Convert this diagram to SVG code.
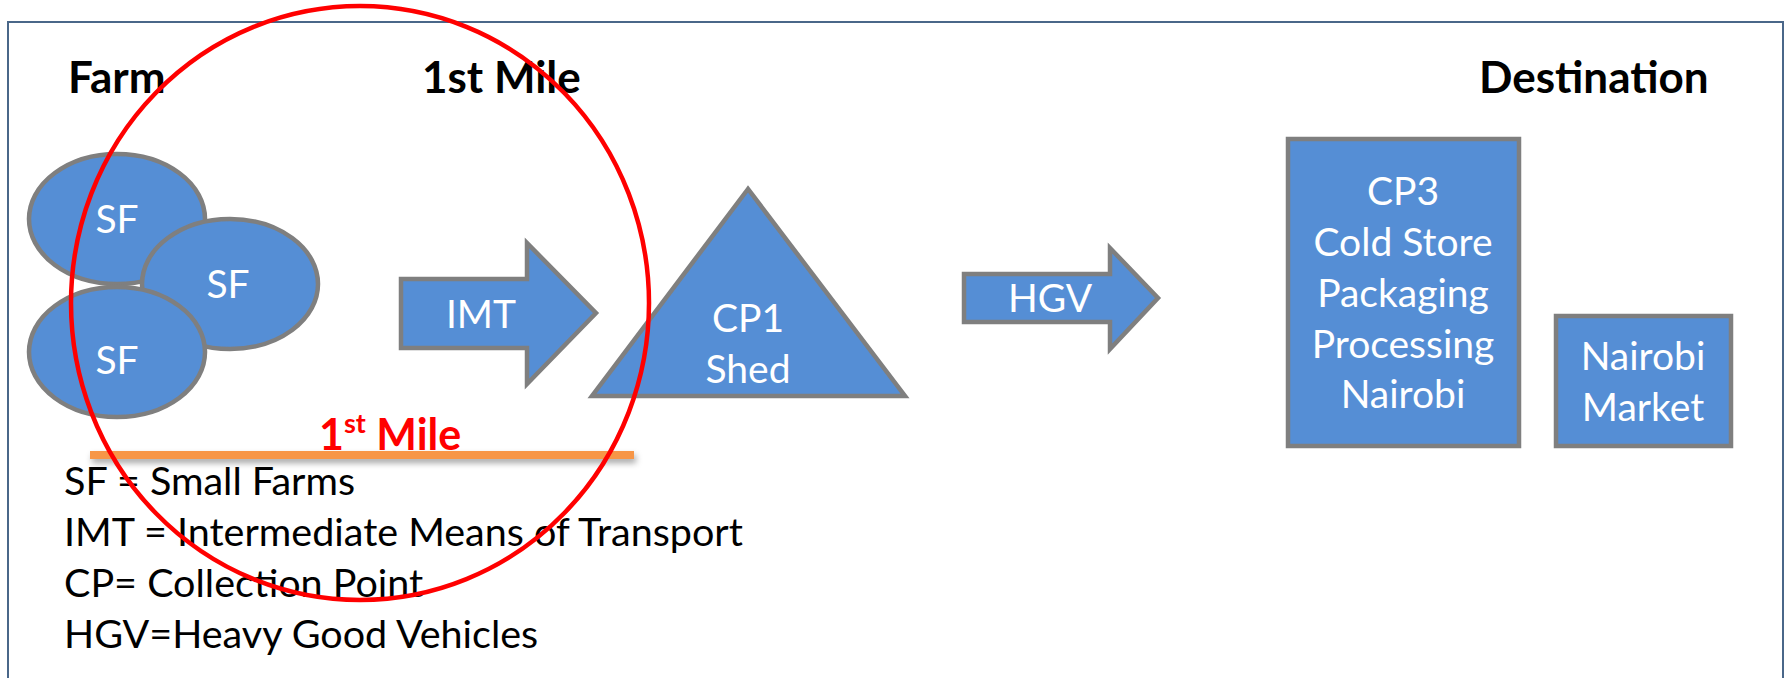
<svg xmlns="http://www.w3.org/2000/svg" width="1787" height="678" viewBox="0 0 1787 678">
  <style>
    .shape { fill: #558ed5; stroke: #7f7f7f; stroke-width: 4.5; }
    .lbl { font-family: Lato, "Open Sans", sans-serif; font-size: 39px; fill: #ffffff; text-anchor: middle; }
    .title { font-family: Lato, "Open Sans", sans-serif; font-size: 44px; font-weight: bold; fill: #000000; }
    .legend { font-family: Lato, "Open Sans", sans-serif; font-size: 39.5px; fill: #000000; }
    .red { font-family: Lato, "Open Sans", sans-serif; font-size: 43px; font-weight: bold; fill: #ff0000; }
  </style>
  <defs>
    <filter id="shadow" filterUnits="userSpaceOnUse" x="70" y="430" width="590" height="60">
      <feDropShadow dx="2" dy="4" stdDeviation="3" flood-color="#000000" flood-opacity="0.35"/>
    </filter>
  </defs>
  <rect width="1787" height="678" fill="#ffffff"/>
  <!-- frame -->
  <path d="M8,690 V22 H1783 V690" fill="none" stroke="#4a6789" stroke-width="2"/>

  <!-- titles -->
  <text class="title" x="68" y="93">Farm</text>
  <text class="title" x="422" y="93">1st Mile</text>
  <text class="title" x="1479" y="93">Destination</text>

  <!-- small farms -->
  <g id="sf1">
    <ellipse class="shape" cx="117" cy="219" rx="88" ry="65"/>
    <text class="lbl" x="117" y="233">SF</text>
  </g>
  <g id="sf2">
    <ellipse class="shape" cx="230" cy="284" rx="88" ry="65"/>
    <text class="lbl" x="228" y="298">SF</text>
  </g>
  <g id="sf3">
    <ellipse class="shape" cx="117" cy="352" rx="88" ry="65"/>
    <text class="lbl" x="117" y="374">SF</text>
  </g>

  <!-- CP1 shed -->
  <g id="cp1">
    <polygon class="shape" points="748,189 592,396 905,396"/>
    <text class="lbl" x="748" y="332">CP1</text>
    <text class="lbl" x="748" y="383">Shed</text>
  </g>

  <!-- CP3 -->
  <g id="cp3">
    <rect class="shape" x="1288" y="139" width="231" height="307"/>
    <text class="lbl" x="1403" y="205">CP3</text>
    <text class="lbl" x="1403" y="256">Cold Store</text>
    <text class="lbl" x="1403" y="307">Packaging</text>
    <text class="lbl" x="1403" y="358">Processing</text>
    <text class="lbl" x="1403" y="408">Nairobi</text>
  </g>

  <!-- Nairobi Market -->
  <g id="market">
    <rect class="shape" x="1556" y="316" width="175" height="130"/>
    <text class="lbl" x="1643" y="370">Nairobi</text>
    <text class="lbl" x="1643" y="421">Market</text>
  </g>

  <!-- connectors (block arrows) -->
  <g id="connectors">
    <g id="imt">
      <polygon class="shape" points="401,279 527,279 527,243 596,313 527,384 527,348 401,348"/>
      <text class="lbl" x="481" y="328">IMT</text>
    </g>
    <g id="hgv">
      <polygon class="shape" points="964,274 1110,274 1110,248 1158,298 1110,349 1110,322 964,322"/>
      <text class="lbl" x="1050" y="312">HGV</text>
    </g>
  </g>

  <!-- 1st mile bar -->
  <g id="firstmile">
    <rect x="90" y="451" width="544" height="8" fill="#f79646" filter="url(#shadow)"/>
    <text class="red" x="319" y="450">1<tspan font-size="27" dy="-17">st</tspan><tspan dy="17"> Mile</tspan></text>
  </g>

  <!-- legend -->
  <g id="legend">
    <text class="legend" x="64" y="495">SF = Small Farms</text>
    <text class="legend" x="64" y="546">IMT = Intermediate Means of Transport</text>
    <text class="legend" x="64" y="597">CP= Collection Point</text>
    <text class="legend" x="64" y="648">HGV=Heavy Good Vehicles</text>
  </g>

  <!-- red highlight ellipse -->
  <ellipse id="highlight" cx="360" cy="303" rx="289" ry="297" fill="none" stroke="#ff0000" stroke-width="4.5"/>
</svg>
